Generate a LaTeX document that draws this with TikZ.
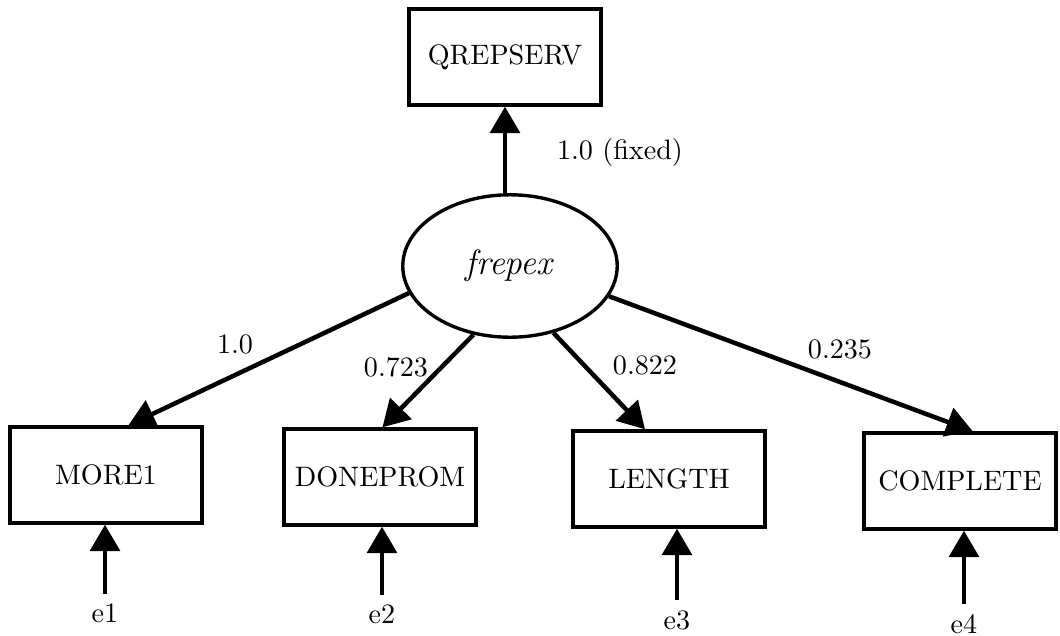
\documentclass[tikz,border=0pt]{standalone}
\usepackage{amsmath}
\usepackage{tikz}
\usetikzlibrary{arrows.meta,shapes.geometric}

\begin{document}
\begin{tikzpicture}[x=0.0125cm,y=-0.0125cm,font=\fontsize{10}{12}\selectfont,
  obs/.style={draw,line width=1.2pt,minimum width=2.4cm,minimum height=1.2cm},
  lat/.style={draw,ellipse,line width=1.2pt,minimum width=2.68cm,minimum height=1.78cm},
  load/.style={line width=1.6pt,-{Triangle[length=0.33cm,width=0.37cm]}}]
\useasboundingbox (0,0) rectangle (1060,635);
\node[obs] (qrep) at (505,57) {QREPSERV};
\node[lat] (frepex) at (510,266) {\fontsize{12.5}{14}\selectfont\textit{frepex}};
\node[obs] (more1) at (106,475) {MORE1};
\node[obs] (doneprom) at (380,477) {DONEPROM};
\node[obs] (length) at (669,479) {LENGTH};
\node[obs] (complete) at (960,481) {COMPLETE};
\draw[load] (frepex.north -| qrep) -- (qrep.south);
\draw[load] (frepex.195) -- ([xshift=0.28cm]more1.north);
\draw[load] (frepex.242) -- ([xshift=0.03cm]doneprom.north);
\draw[load] (frepex.303) -- ([xshift=-0.3cm]length.north);
\draw[load] (frepex.343) -- ([xshift=0.16cm]complete.north);
\node (fix) at (620,152) {1.0 (fixed)};
\node (w1) at (235,344) {1.0};
\node (w2) at (396,367) {0.723};
\node (w3) at (645,365) {0.822};
\node (w4) at (840,349) {0.235};
\node (e1) at (105,613) {e1};
\node (e2) at (382,614) {e2};
\node (e3) at (677,620) {e3};
\node (e4) at (964,624) {e4};
\draw[load] (e1.north) -- (e1.north |- more1.south);
\draw[load] (e2.north) -- (e2.north |- doneprom.south);
\draw[load] (e3.north) -- (e3.north |- length.south);
\draw[load] (e4.north) -- (e4.north |- complete.south);
\end{tikzpicture}
\end{document}
